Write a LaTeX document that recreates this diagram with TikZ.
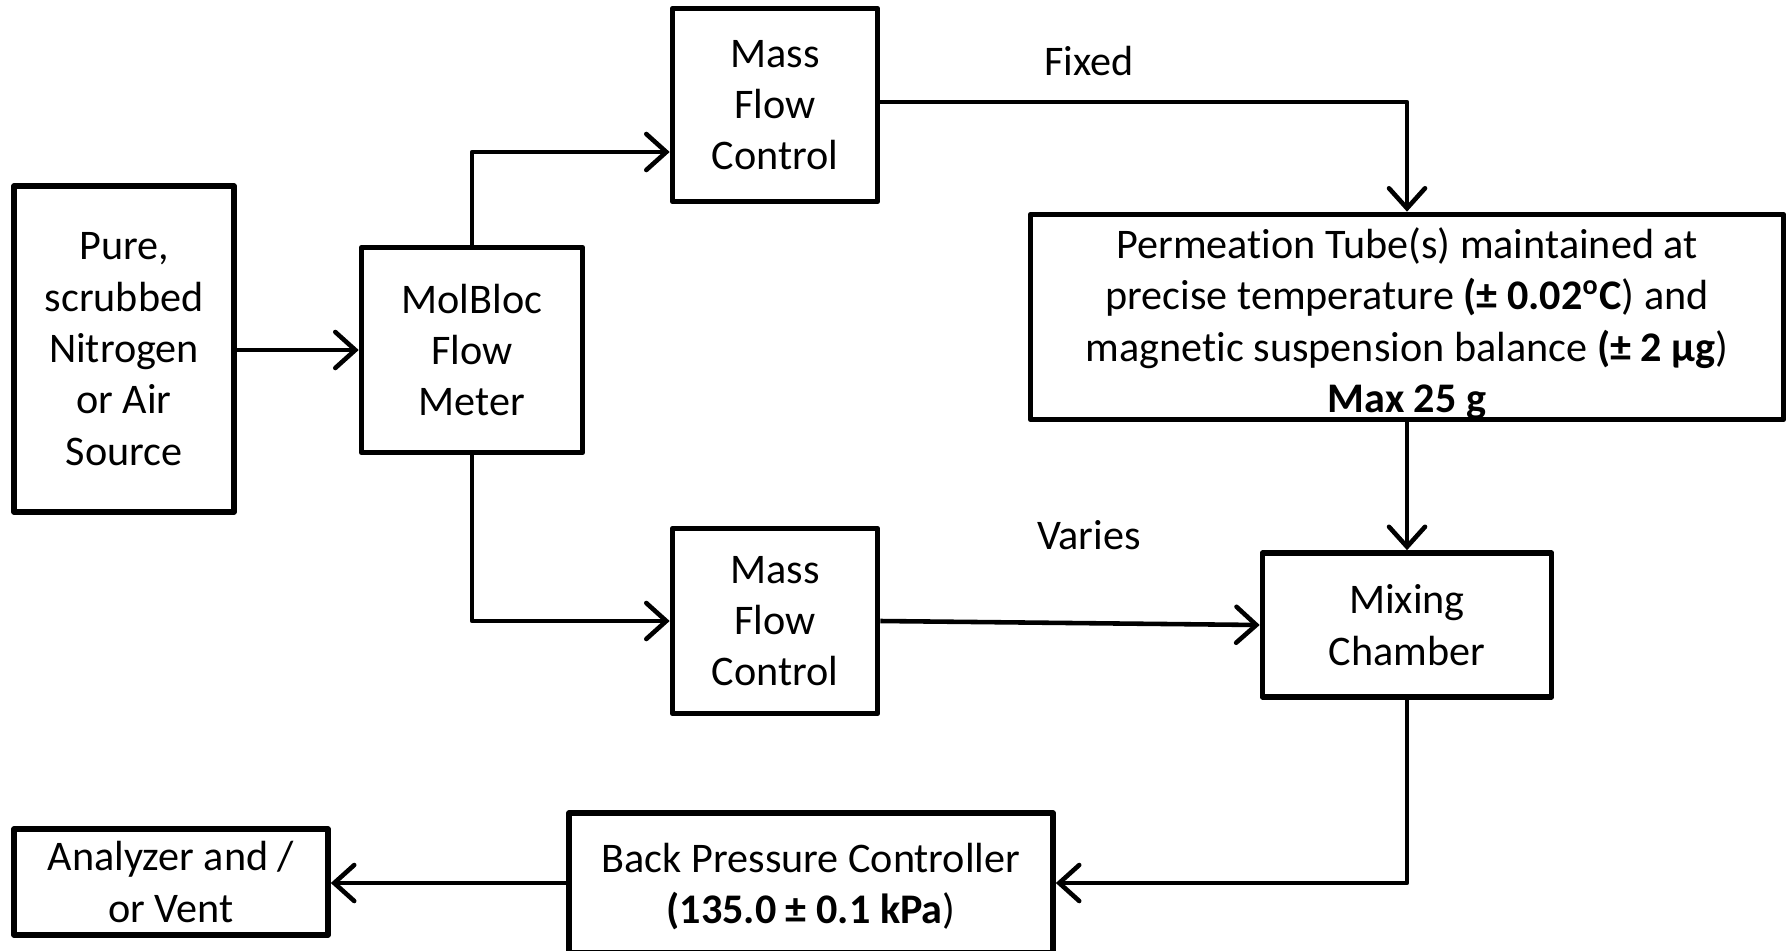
\documentclass[tikz,border=0pt]{standalone}
\usepackage{fontspec}
\setmainfont{Carlito}[Ligatures=NoCommon]
\usetikzlibrary{arrows.meta,positioning}

\begin{document}
\begin{tikzpicture}[
    box/.style={
        draw,
        line width=1.6pt,
        line join=round,
        align=center,
        inner sep=0pt,
        font=\fontsize{12}{14.6}\selectfont
    },
    pipe/.style={line width=1.3pt, line join=round},
    flow/.style={pipe, -{Straight Barb[length=2mm,width=3.6mm,line cap=round]}},
    tag/.style={font=\fontsize{12}{14.6}\selectfont}
]
\useasboundingbox (0,0) rectangle (17.91,-9.5);

% boxes
\node[box, minimum width=2.20cm, minimum height=3.26cm] (src) at (1.24,-3.49)
    {Pure,\\scrubbed\\Nitrogen\\or Air\\Source};
\node[box, minimum width=2.21cm, minimum height=2.05cm] (molbloc) at (4.72,-3.50)
    {MolBloc\\Flow\\Meter};
\node[box, minimum width=2.05cm, minimum height=1.93cm] (mfcA) at (7.75,-1.05)
    {Mass\\Flow\\Control};
\node[box, minimum width=2.05cm, minimum height=1.85cm] (mfcB) at (7.75,-6.21)
    {Mass\\Flow\\Control};
\node[box, minimum width=7.53cm, minimum height=2.05cm] (perm) at (14.07,-3.17)
    {\rule{0pt}{12.5pt}Permeation Tube(s) maintained at\\
     precise temperature \textbf{(± 0.02\textsuperscript{o}C}) and\\
     magnetic suspension balance \textbf{(± 2 µg})\\
     \textbf{Max 25 g}};
\node[box, minimum width=2.89cm, minimum height=1.44cm] (mix) at (14.07,-6.25)
    {Mixing\\Chamber};
\node[box, minimum width=4.84cm, minimum height=1.40cm] (bpc) at (8.11,-8.83)
    {\rule{0pt}{10.4pt}Back Pressure Controller\\\textbf{(135.0 ± 0.1 kPa})};
\node[box, minimum width=3.14cm, minimum height=1.06cm] (ana) at (1.71,-8.82)
    {Analyzer and /\\or Vent};

% labels
\node[tag] (fixed) at (10.89,-0.61) {Fixed};
\node[tag] (varies) at (10.89,-5.35) {Varies};

% connectors
\draw[flow] (src.east |- molbloc.west) -- (molbloc.west);
\draw[flow] (molbloc.north) |- ([yshift=-4.7mm]mfcA.west);
\draw[flow] (molbloc.south) |- (mfcB.west);
\draw[flow] ([yshift=0.3mm]mfcA.east) -| (perm.north);
\draw[flow] (perm.south) -- (mix.north);
\draw[flow] (mfcB.east) -- (mix.west);
\draw[flow] (mix.south) |- (bpc.east);
\draw[flow] (bpc.west) -- (bpc.west -| ana.east);

\end{tikzpicture}
\end{document}
